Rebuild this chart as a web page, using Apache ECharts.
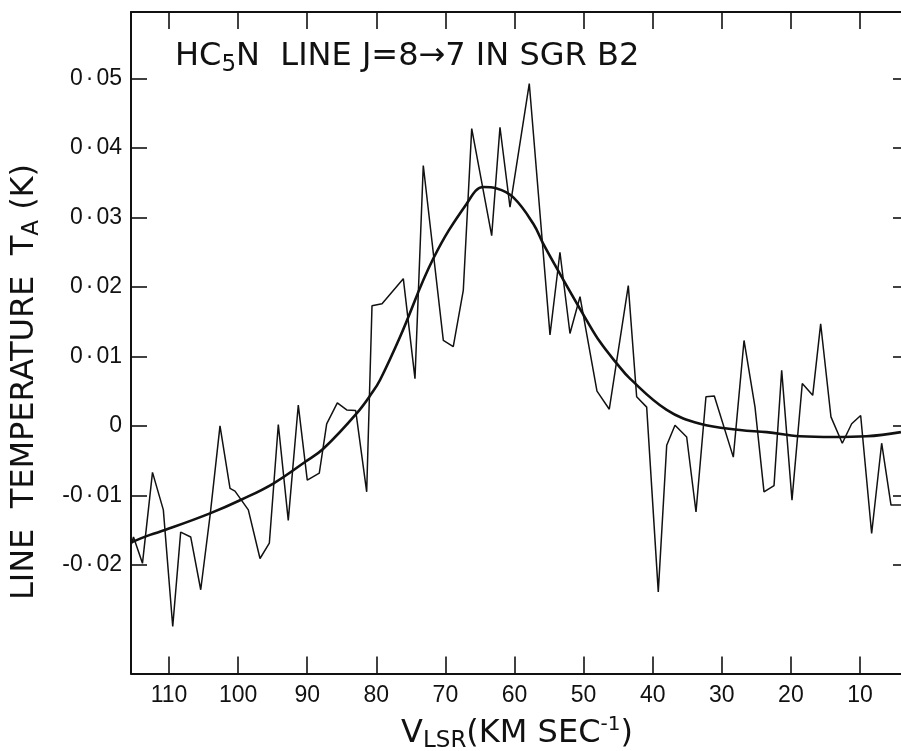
<!DOCTYPE html>
<html>
<head>
<meta charset="utf-8">
<script src="https://cdn.jsdelivr.net/npm/echarts@6/dist/echarts.min.js"></script>
<style>
html,body{margin:0;padding:0;background:#fff;}
#chart{width:901px;height:751px;}
</style>
</head>
<body>
<div id="chart"></div>
<script>
// Observed spectrum (V_LSR km/s, T_A K)
var specV = [115.50, 115.14, 113.84, 112.39, 110.82, 109.46, 108.31, 106.86, 105.41, 104.02,
  102.62, 101.17, 100.45, 98.52, 96.83, 95.48, 94.18, 92.74, 91.29, 89.99,
  88.25, 87.18, 85.64, 84.28, 82.98, 81.39, 80.62, 79.17, 76.09, 74.40,
  73.20, 70.30, 68.86, 67.41, 66.19, 63.30, 62.10, 60.65, 57.86, 54.86,
  53.42, 51.97, 50.52, 48.06, 46.28, 43.53, 42.32, 40.87, 39.19, 37.97,
  36.77, 35.08, 33.73, 32.29, 31.08, 28.33, 26.78, 25.19, 23.89, 22.44,
  21.33, 19.84, 18.35, 16.84, 15.69, 14.20, 12.56, 11.20, 9.90, 8.31,
  6.86, 5.51, 4.07];
var specT = [-0.0172, -0.0160, -0.0198, -0.0067, -0.0121, -0.0289, -0.0153, -0.0160, -0.0236, -0.0126,
  0.0000, -0.0090, -0.0094, -0.0121, -0.0191, -0.0169, 0.0002, -0.0136, 0.0030, -0.0078,
  -0.0068, 0.0003, 0.0033, 0.0023, 0.0022, -0.0095, 0.0173, 0.0176, 0.0212, 0.0068,
  0.0375, 0.0123, 0.0114, 0.0195, 0.0428, 0.0274, 0.0430, 0.0315, 0.0493, 0.0131,
  0.0250, 0.0133, 0.0186, 0.0050, 0.0024, 0.0202, 0.0042, 0.0027, -0.0239, -0.0028,
  0.0001, -0.0016, -0.0124, 0.0042, 0.0043, -0.0045, 0.0123, 0.0027, -0.0095, -0.0086,
  0.0080, -0.0107, 0.0061, 0.0044, 0.0147, 0.0013, -0.0025, 0.0003, 0.0015, -0.0155,
  -0.0025, -0.0114, -0.0114];

// Fitted smooth profile
var fitV = [115.5, 112.75, 110.58, 104.07, 99.48, 94.91, 90.32, 87.67, 82.84, 80.52,
  79.46, 76.57, 71.75, 66.92, 64.51, 62.57, 60.17, 57.28, 55.83, 53.42,
  49.55, 47.63, 45.21, 43.28, 37.97, 33.15, 27.36, 23.50, 18.68, 13.86,
  9.03, 4.07];
var fitT = [-0.0168, -0.0157, -0.0150, -0.0126, -0.0106, -0.0083, -0.0052, -0.0033, 0.0018, 0.0049,
  0.0066, 0.0128, 0.0241, 0.0320, 0.0344, 0.0342, 0.0329, 0.0291, 0.0262, 0.0219,
  0.0152, 0.0121, 0.0090, 0.0068, 0.0023, 0.0003, -0.0006, -0.0009, -0.0015, -0.0016,
  -0.0015, -0.0009];

// Ticks
var xTicks = [110, 100, 90, 80, 70, 60, 50, 40, 30, 20, 10];
var xTickLabels = ['110', '100', '90', '80', '70', '60', '50', '40', '30', '20', '10'];
var yTicks = [-0.02, -0.01, 0, 0.01, 0.02, 0.03, 0.04, 0.05];
var yTickLabels = ['-0·02', '-0·01', '0', '0·01', '0·02', '0·03', '0·04', '0·05'];

var xMin = 2.76, xMax = 115.5, yMin = -0.03566, yMax = 0.0596;

function pairs(a, b) { return a.map(function (v, i) { return [v, b[i]]; }); }
function lbl(ticks, labels, spacedDot) {
  return function (v) {
    for (var i = 0; i < ticks.length; i++) {
      if (Math.abs(ticks[i] - v) < 1e-9) {
        return spacedDot ? labels[i].replace('·', '{d|·}') : labels[i];
      }
    }
    return '';
  };
}

var FONT = 'Liberation Sans';
var TFONT = 'DejaVu Sans';
var black = '#111';
var axisLineStyle = { color: black, width: 2 };
var tickStyle = { color: black, width: 1.6 };

var chart = echarts.init(document.getElementById('chart'), null, { renderer: 'canvas' });
chart.setOption({
  animation: false,
  backgroundColor: '#fff',
  grid: { left: 131, top: 12, width: 779, height: 661.5, show: false,
    outerBoundsMode: 'none', containLabel: false },
  xAxis: [
    {
      type: 'value', min: xMin, max: xMax, inverse: true, position: 'bottom',
      axisLine: { show: true, onZero: false, lineStyle: axisLineStyle },
      axisTick: { show: true, inside: true, length: 17, customValues: xTicks, lineStyle: tickStyle },
      axisLabel: { show: true, customValues: xTicks, formatter: lbl(xTicks, xTickLabels, false),
        color: black, fontFamily: FONT, fontSize: 23, margin: 11 },
      splitLine: { show: false }
    },
    {
      type: 'value', min: xMin, max: xMax, inverse: true, position: 'top',
      axisLine: { show: true, onZero: false, lineStyle: axisLineStyle },
      axisTick: { show: true, inside: true, length: 17, customValues: xTicks, lineStyle: tickStyle },
      axisLabel: { show: false },
      splitLine: { show: false }
    }
  ],
  yAxis: [
    {
      type: 'value', min: yMin, max: yMax, position: 'left',
      axisLine: { show: true, onZero: false, lineStyle: axisLineStyle },
      axisTick: { show: true, inside: true, length: 16, customValues: yTicks, lineStyle: tickStyle },
      axisLabel: { show: true, customValues: yTicks, formatter: lbl(yTicks, yTickLabels, true),
        color: black, fontFamily: FONT, fontSize: 23, margin: 9,
        rich: { d: { fontFamily: FONT, fontSize: 23, color: black, padding: [0, 3, 0, 3] } } },
      splitLine: { show: false }
    },
    {
      type: 'value', min: yMin, max: yMax, position: 'right',
      axisLine: { show: true, onZero: false, lineStyle: axisLineStyle },
      axisTick: { show: true, inside: true, length: 17, customValues: yTicks, lineStyle: tickStyle },
      axisLabel: { show: false },
      splitLine: { show: false }
    }
  ],
  graphic: [
    {
      type: 'text', left: 175, top: 37, silent: true,
      style: {
        text: 'HC{s|5}N  LINE J=8→7 IN SGR B2',
        font: '32px "DejaVu Sans"', fill: black, lineHeight: 40,
        rich: { s: { fontSize: 23, lineHeight: 23, verticalAlign: 'bottom', fontFamily: TFONT, fill: black } }
      }
    },
    {
      type: 'text', x: 25, y: 382, rotation: Math.PI / 2, silent: true,
      style: {
        text: 'LINE  TEMPERATURE  T{s|A} (K)',
        font: '32px "DejaVu Sans"', fill: black, lineHeight: 38,
        align: 'center', verticalAlign: 'middle',
        rich: { s: { fontSize: 23, lineHeight: 23, verticalAlign: 'bottom', fontFamily: TFONT, fill: black } }
      }
    },
    {
      type: 'text', x: 517, y: 734, silent: true,
      style: {
        text: 'V{s|LSR}(KM SEC{p|-1})',
        font: '32px "DejaVu Sans"', fill: black, lineHeight: 38,
        align: 'center', verticalAlign: 'middle',
        rich: {
          s: { fontSize: 23, lineHeight: 23, verticalAlign: 'bottom', fontFamily: TFONT, fill: black },
          p: { fontSize: 20, lineHeight: 20, verticalAlign: 'top', fontFamily: TFONT, fill: black }
        }
      }
    }
  ],
  series: [
    {
      type: 'line', xAxisIndex: 0, yAxisIndex: 0, data: pairs(specV, specT),
      showSymbol: false, symbol: 'none', smooth: false,
      lineStyle: { color: black, width: 1.5 }, z: 3
    },
    {
      type: 'line', xAxisIndex: 0, yAxisIndex: 0, data: pairs(fitV, fitT),
      showSymbol: false, symbol: 'none', smooth: 0.4,
      lineStyle: { color: black, width: 2.6 }, z: 4
    }
  ]
});
</script>
</body>
</html>
